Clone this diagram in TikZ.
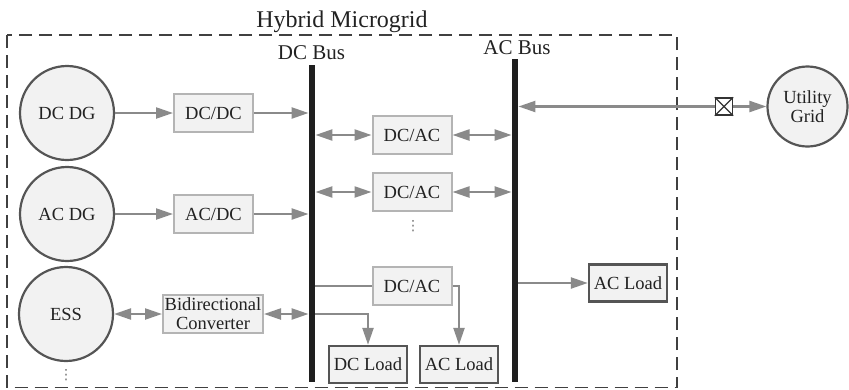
\documentclass[tikz,border=0pt]{standalone}
\usepackage{fontspec}
\setmainfont{Liberation Serif}
\newfontfamily\dejavu{DejaVu Sans}
\usetikzlibrary{arrows.meta}
\definecolor{linegray}{HTML}{8A8A8A}
\definecolor{fillgray}{HTML}{F2F2F2}
\definecolor{darkrim}{HTML}{555555}
\definecolor{lightrim}{HTML}{B4B4B4}
\definecolor{txt}{HTML}{222222}
\begin{document}
\begin{tikzpicture}[x=1pt,y=1pt,
  every node/.style={font=\fontsize{18.5}{19}\selectfont, text=txt},
  src/.style={circle, draw=darkrim, line width=2.2pt, fill=fillgray, minimum size=94pt, inner sep=0pt},
  conv/.style={rectangle, draw=lightrim, line width=2pt, fill=fillgray, minimum width=79pt, minimum height=38pt, inner sep=0pt},
  load/.style={rectangle, draw=darkrim, line width=2.4pt, fill=fillgray, minimum width=78pt, minimum height=37pt, inner sep=0pt},
  bus/.style={rectangle, fill=black!88, inner sep=0pt, minimum width=6.5pt},
  tip/.tip={Triangle[length=17pt,width=11pt]},
  arr/.style={draw=linegray, line width=2.3pt, -tip},
  barr/.style={draw=linegray, line width=2.3pt, tip-tip},
  wire/.style={draw=linegray, line width=2.3pt},
  dotsnode/.style={text=black!55, font=\dejavu\fontsize{14}{14}\selectfont, inner sep=0pt},
]
\useasboundingbox (0,0) rectangle (849,-389);
% boundary
\draw[black!75, line width=1.3pt, dash pattern=on 13pt off 7pt] (7,-35) rectangle (677,-387.5);
\node[anchor=base, font=\fontsize{24}{26}\selectfont] (title) at (342,-27) {Hybrid Microgrid};
% buses
\node[bus, minimum height=317pt] (dcbus) at (312,-223.5) {};
\node[bus, minimum height=323pt] (acbus) at (515,-220.5) {};
\node[anchor=base, font=\fontsize{21}{22}\selectfont] (dclabel) at (311.5,-59) {DC Bus};
\node[anchor=base, font=\fontsize{21}{22}\selectfont] (aclabel) at (517,-54) {AC Bus};
% sources
\node[src] (dcdg) at (67,-113) {DC DG};
\node[src] (acdg) at (67,-214) {AC DG};
\node[src] (ess) at (66,-314) {ESS};
\node[dotsnode] (essdots) at (66,-375) {⋮};
% converters
\node[conv] (dcdc) at (213.5,-113) {DC/DC};
\node[conv] (acdc) at (213.5,-214) {AC/DC};
\node[conv, minimum width=100pt, align=center] (bic) at (213,-314) {Bidirectional\\Converter};
\node[conv] (dcac1) at (412,-135) {DC/AC};
\node[conv] (dcac2) at (412,-192) {DC/AC};
\node[dotsnode] (acdots) at (413,-226) {⋮};
\node[conv] (dcac3) at (412,-286) {DC/AC};
% loads
\node[load] (dcload) at (368,-364.5) {DC Load};
\node[load] (acload1) at (459,-364.5) {AC Load};
\node[load] (acload2) at (628,-283) {AC Load};
% utility
\node[rectangle, draw=black!80, line width=1.3pt, fill=white, minimum size=17pt, inner sep=0pt] (breaker) at (724,-106.5) {};
\draw[black!80, line width=1.1pt] (breaker.north west) -- (breaker.south east) (breaker.north east) -- (breaker.south west);
\node[circle, draw=darkrim, line width=2.2pt, fill=fillgray, minimum size=80pt, inner sep=0pt, align=center] (grid) at (807.5,-106.5) {Utility\\Grid};
% connectors
\draw[arr] (dcdg) -- (dcdc);
\draw[arr] (dcdc) -- (dcdc -| dcbus.west);
\draw[arr] (acdg) -- (acdc);
\draw[arr] (acdc) -- (acdc -| dcbus.west);
\draw[barr] (ess) -- (bic);
\draw[barr] (bic) -- (bic -| dcbus.west);
\draw[barr] (dcac1 -| dcbus.east) -- (dcac1);
\draw[barr] (dcac1) -- (dcac1 -| acbus.west);
\draw[barr] (dcac2 -| dcbus.east) -- (dcac2);
\draw[barr] (dcac2) -- (dcac2 -| acbus.west);
\draw[wire] (dcac3 -| dcbus.east) -- (dcac3.west);
\draw[arr] (dcac3.east) -| (acload1.north);
\draw[arr] (bic -| dcbus.east) -| (dcload.north);
\draw[arr] (acload2 -| acbus.east) -- (acload2.west);
\draw[arr] (breaker.west) -- (breaker -| acbus.east);
\draw[arr] (breaker.east) -- (grid);
\end{tikzpicture}
\end{document}
